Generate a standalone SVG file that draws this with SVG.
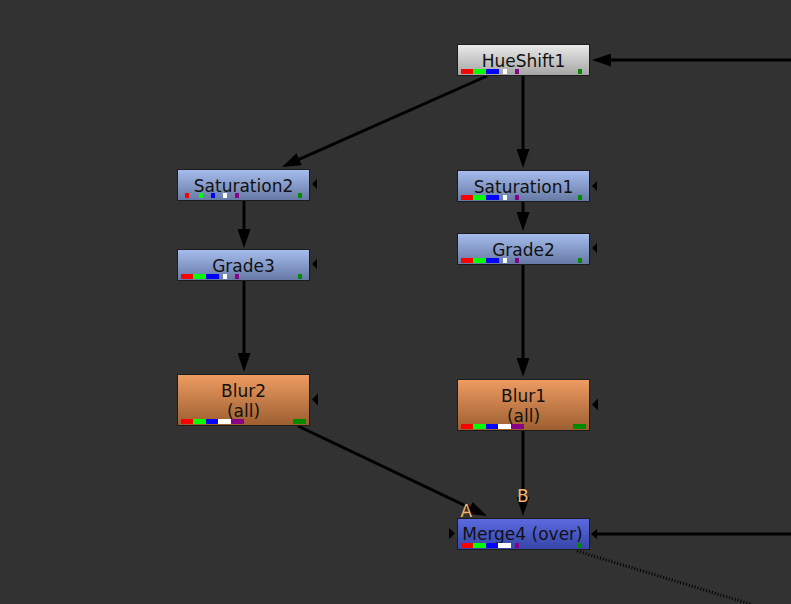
<svg xmlns="http://www.w3.org/2000/svg" width="791" height="604" viewBox="0 0 791 604">
<defs>
<linearGradient id="gGray" x1="0" y1="0" x2="0" y2="1"><stop offset="0" stop-color="#ebebeb"/><stop offset="1" stop-color="#a4a4a4"/></linearGradient>
<linearGradient id="gBlue" x1="0" y1="0" x2="0" y2="1"><stop offset="0" stop-color="#a6bdee"/><stop offset="1" stop-color="#6679a4"/></linearGradient>
<linearGradient id="gOrange" x1="0" y1="0" x2="0" y2="1"><stop offset="0" stop-color="#ee9c62"/><stop offset="1" stop-color="#9c5e30"/></linearGradient>
<linearGradient id="gMerge" x1="0" y1="0" x2="0" y2="1"><stop offset="0" stop-color="#5b6be0"/><stop offset="1" stop-color="#3545a8"/></linearGradient>
<marker id="arr" markerUnits="userSpaceOnUse" viewBox="0 0 19 13" markerWidth="19" markerHeight="13" refX="9" refY="6.5" orient="auto">
<path d="M0,0 L19,6.5 L0,13 z" fill="#000"/>
</marker>
</defs>
<style>
.node{stroke:#1c1c1c;stroke-width:1}
.lbl{font-family:"DejaVu Sans","Noto Sans",sans-serif;font-size:17px;fill:#111;text-anchor:middle}
.io{font-family:"DejaVu Sans","Noto Sans",sans-serif;font-size:17px;fill:#f2b26a}
.e{stroke:#000;stroke-width:3;fill:none}
.ea{stroke:#000;stroke-width:3;fill:none;marker-end:url(#arr)}
.tri{fill:#000}
.r{fill:#ff0000}.g{fill:#00ff00}.b{fill:#0000ff}.w{fill:#ffffff}.p{fill:#880088}.dg{fill:#008a00}
</style>
<rect width="791" height="604" fill="#323232"/>
<g id="connectors">
<line class="ea" x1="791" y1="60" x2="602" y2="60"/>
<line class="ea" x1="487" y1="76" x2="291.1" y2="162.9"/>
<line class="ea" x1="523" y1="76" x2="523" y2="158"/>
<line class="ea" x1="244" y1="201" x2="244" y2="238"/>
<line class="ea" x1="523" y1="202" x2="523" y2="221"/>
<line class="ea" x1="244" y1="281" x2="244" y2="362"/>
<line class="ea" x1="523" y1="265" x2="523" y2="367"/>
<line class="ea" x1="523" y1="431" x2="523" y2="506"/>
<line class="ea" x1="298" y1="426" x2="478" y2="511.7"/>
<line class="e" x1="791" y1="534" x2="596" y2="534"/>
<polygon class="tri" points="591,534 597,529 597,539"/>
<line x1="577" y1="551" x2="752" y2="604.5" stroke="#000" stroke-width="3" stroke-dasharray="1 2"/>
</g>
<g id="HueShift1">
<rect class="node" x="457.5" y="44.5" width="132" height="31" fill="url(#gGray)"/>
<text class="lbl" x="523.5" y="67">HueShift1</text>
<rect class="r" x="461" y="69" width="12" height="5"/><rect class="g" x="473" y="69" width="13" height="5"/><rect class="b" x="486" y="69" width="13" height="5"/><rect class="w" x="503" y="69" width="4" height="5"/><rect class="p" x="515" y="69" width="4" height="5"/><rect class="dg" x="578" y="69" width="4" height="5"/>
</g>
<g id="Saturation2">
<rect class="node" x="177.5" y="169.5" width="132" height="31" fill="url(#gBlue)"/>
<text class="lbl" x="243.5" y="192">Saturation2</text>
<rect class="r" x="185" y="193" width="4" height="5"/><rect class="g" x="199" y="193" width="4" height="5"/><rect class="b" x="211" y="193" width="4" height="5"/><rect class="w" x="223" y="193" width="4" height="5"/><rect class="p" x="235" y="193" width="4" height="5"/><rect class="dg" x="298" y="193" width="4" height="5"/>
<polygon class="tri" points="312,184 317,179 317,189"/>
</g>
<g id="Saturation1">
<rect class="node" x="457.5" y="170.5" width="132" height="31" fill="url(#gBlue)"/>
<text class="lbl" x="523.5" y="193">Saturation1</text>
<rect class="r" x="461" y="195" width="12" height="5"/><rect class="g" x="473" y="195" width="13" height="5"/><rect class="b" x="486" y="195" width="13" height="5"/><rect class="w" x="503" y="195" width="4" height="5"/><rect class="p" x="515" y="195" width="4" height="5"/><rect class="dg" x="578" y="195" width="4" height="5"/>
<polygon class="tri" points="592,186 597,181 597,191"/>
</g>
<g id="Grade2">
<rect class="node" x="457.5" y="233.5" width="132" height="31" fill="url(#gBlue)"/>
<text class="lbl" x="523.5" y="256">Grade2</text>
<rect class="r" x="461" y="258" width="12" height="5"/><rect class="g" x="473" y="258" width="13" height="5"/><rect class="b" x="486" y="258" width="13" height="5"/><rect class="w" x="503" y="258" width="4" height="5"/><rect class="p" x="515" y="258" width="4" height="5"/><rect class="dg" x="578" y="258" width="4" height="5"/>
<polygon class="tri" points="592,248 597,243 597,253"/>
</g>
<g id="Grade3">
<rect class="node" x="177.5" y="249.5" width="132" height="31" fill="url(#gBlue)"/>
<text class="lbl" x="243.5" y="272">Grade3</text>
<rect class="r" x="181" y="274" width="12" height="5"/><rect class="g" x="193" y="274" width="13" height="5"/><rect class="b" x="206" y="274" width="13" height="5"/><rect class="w" x="223" y="274" width="4" height="5"/><rect class="p" x="235" y="274" width="4" height="5"/><rect class="dg" x="298" y="274" width="4" height="5"/>
<polygon class="tri" points="312,264 317,259 317,269"/>
</g>
<g id="Blur2">
<rect class="node" x="177.5" y="374.5" width="132" height="51" fill="url(#gOrange)"/>
<text class="lbl" x="243.5" y="397">Blur2</text>
<text class="lbl" x="243.5" y="417">(all)</text>
<rect class="r" x="181" y="419" width="12" height="5"/><rect class="g" x="193" y="419" width="13" height="5"/><rect class="b" x="206" y="419" width="12" height="5"/><rect class="w" x="218" y="419" width="13" height="5"/><rect class="p" x="231" y="419" width="13" height="5"/><rect class="dg" x="293" y="419" width="13" height="5"/>
<polygon class="tri" points="312,399.5 318,393.5 318,405.5"/>
</g>
<g id="Blur1">
<rect class="node" x="457.5" y="379.5" width="132" height="51" fill="url(#gOrange)"/>
<text class="lbl" x="523.5" y="402">Blur1</text>
<text class="lbl" x="523.5" y="422">(all)</text>
<rect class="r" x="461" y="424" width="12" height="5"/><rect class="g" x="473" y="424" width="13" height="5"/><rect class="b" x="486" y="424" width="12" height="5"/><rect class="w" x="498" y="424" width="13" height="5"/><rect class="p" x="511" y="424" width="13" height="5"/><rect class="dg" x="573" y="424" width="13" height="5"/>
<polygon class="tri" points="592,404.5 598,398.5 598,410.5"/>
</g>
<g id="Merge4">
<rect class="node" x="457.5" y="518.5" width="132" height="31" fill="url(#gMerge)"/>
<text class="lbl" x="522.5" y="540">Merge4 (over)</text>
<rect class="r" x="461" y="543" width="12" height="5"/><rect class="g" x="473" y="543" width="13" height="5"/><rect class="b" x="486" y="543" width="12" height="5"/><rect class="w" x="498" y="543" width="13" height="5"/><rect class="p" x="515" y="543" width="4" height="5"/><rect class="dg" x="577" y="543" width="5" height="5"/>
<polygon class="tri" points="455,533.5 449,528 449,539"/>
<text class="io" x="460.5" y="517">A</text>
<text class="io" x="517" y="502">B</text>
</g>
</svg>
